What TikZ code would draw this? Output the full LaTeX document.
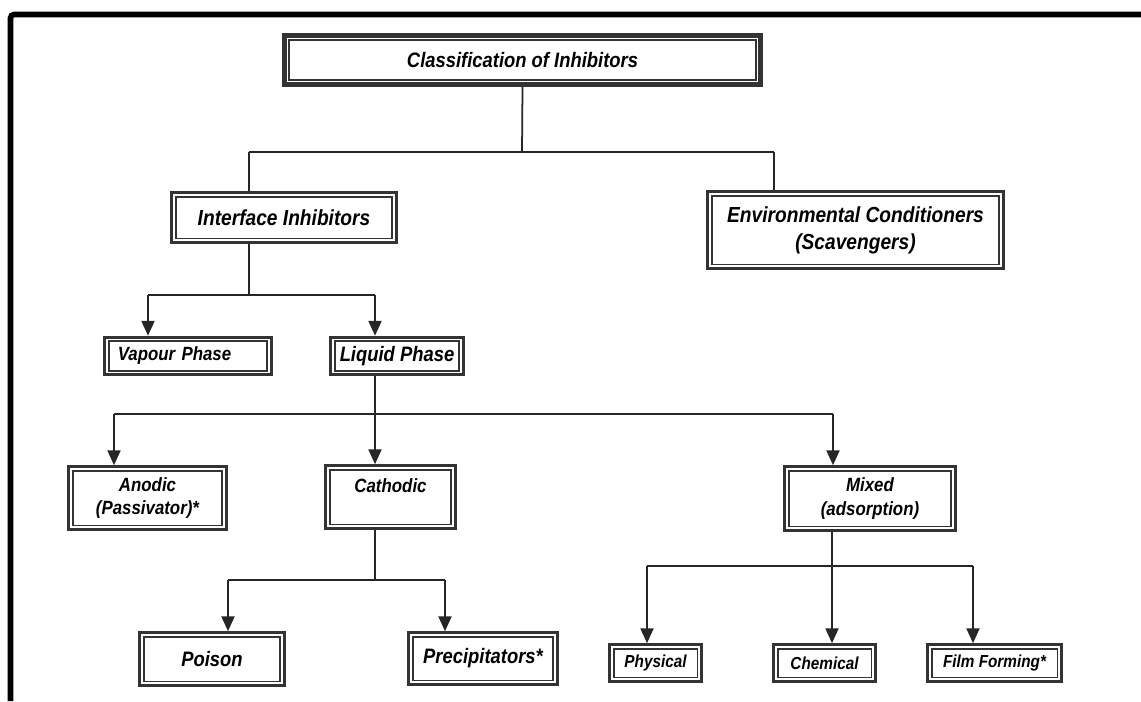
\documentclass[tikz,border=0pt]{standalone}
\usepackage{fontspec}
\newfontfamily\boxfont[FakeStretch=0.88]{Liberation Sans}
\usepackage{tikz}
\usetikzlibrary{arrows.meta}

\tikzset{
  ibox/.style={draw=black!80, line width=1.8pt, inner sep=0pt, align=center, text=black},
  inbox/.style={draw=black!80, line width=0.95pt},
  link/.style={draw=black!85, line width=1pt},
  arr/.style={link, -{Triangle[width=7.5pt,length=8.5pt]}},
  fxl/.style={font=\boxfont\bfseries\itshape\fontsize{12.4}{15.5}\selectfont},
  fl/.style={font=\boxfont\bfseries\itshape\fontsize{11.9}{15.5}\selectfont},
  fm/.style={font=\boxfont\bfseries\itshape\fontsize{10.9}{13.6}\selectfont},
  fs/.style={font=\boxfont\bfseries\itshape\fontsize{9.9}{12}\selectfont},
}

\begin{document}
\begin{tikzpicture}[x=0.02cm, y=-0.02cm]
      \useasboundingbox (0,0) rectangle (1141,701);
      \draw[black, line width=3.2pt, rounded corners=2pt] (1141,14.5) -- (10.5,14.5) -- (10.5,701);

      \node[ibox, fl, line width=2.6pt, minimum width=9.52cm, minimum height=0.98cm] (title) at (522.5,60) {Classification of Inhibitors};

      \node[ibox, fxl, minimum width=4.49cm, minimum height=0.99cm] (iface) at (284,217.5) {Interface Inhibitors};
      \node[ibox, fxl, minimum width=5.91cm, minimum height=1.53cm] (env) at (855.5,230) {Environmental Conditioners\\(Scavengers)};

      \node[ibox, fm, align=left, inner xsep=0.26cm, text width=2.81cm, minimum height=0.75cm] (vapour) at (188,356) {Vapour Phase};
      \node[ibox, fl, minimum width=2.65cm, minimum height=0.75cm] (liquid) at (397,356) {Liquid Phase};

      \node[ibox, fm, minimum width=3.15cm, minimum height=1.25cm] (anodic) at (147.5,498) {Anodic\\(Passivator)*};
      \node[ibox, fm, minimum width=2.59cm, minimum height=1.25cm] (cathodic) at (390.5,497) {Cathodic\\~};
      \node[ibox, fm, minimum width=3.41cm, minimum height=1.27cm] (mixed) at (870,498.5) {Mixed\\(adsorption)};

      \node[ibox, fl, minimum width=2.89cm, minimum height=1.05cm] (poison) at (212,659) {Poison};
      \node[ibox, fl, minimum width=2.97cm, minimum height=1.03cm] (precip) at (483,658.5) {Precipitators*};

      \node[ibox, fs, minimum width=1.83cm, minimum height=0.73cm] (phys) at (655.5,663) {Physical};
      \node[ibox, fs, minimum width=2.03cm, minimum height=0.73cm] (chem) at (824.5,663) {Chemical};
      \node[ibox, fs, minimum width=2.67cm, minimum height=0.73cm] (film) at (994.5,663) {Film Forming*};

      % inner thin frames
      \draw[inbox] ([shift={(7,-7)}]title.south west) rectangle ([shift={(-7,7)}]title.north east);
      \foreach \n in {iface,env,vapour,liquid,anodic,cathodic,mixed,poison,precip,phys,chem,film}
        \draw[inbox] ([shift={(5.5,-5.5)}]\n.south west) rectangle ([shift={(-5.5,5.5)}]\n.north east);

      % junctions
      \coordinate (j1) at (522,152);
      \coordinate (j1l) at (249,152);
      \coordinate (j1r) at (774,152);
      \coordinate (j2) at (249,295);
      \coordinate (j2l) at (148,295);
      \coordinate (j2r) at (375,295);
      \coordinate (j3) at (375,414);
      \coordinate (j3l) at (114,414);
      \coordinate (j3r) at (833,414);
      \coordinate (j4) at (375,580);
      \coordinate (j4l) at (228,580);
      \coordinate (j4r) at (445,580);
      \coordinate (j5) at (832,566);
      \coordinate (j5l) at (647,566);
      \coordinate (j5r) at (973,566);

      \draw[link] (title.south) -- (j1);
      \draw[link] (j1l) -- (j1r);
      \draw[link] (j1l) -- (j1l |- iface.north);
      \draw[link] (j1r) -- (j1r |- env.north);

      \draw[link] (iface.south -| j2) -- (j2);
      \draw[link] (j2l) -- (j2r);
      \draw[arr] (j2l) -- (j2l |- vapour.north);
      \draw[arr] (j2r) -- (j2r |- liquid.north);

      \draw[link] (liquid.south -| j3) -- (j3);
      \draw[link] (j3l) -- (j3r);
      \draw[arr] (j3l) -- (j3l |- anodic.north);
      \draw[arr] (j3) -- (j3 |- cathodic.north);
      \draw[arr] (j3r) -- (j3r |- mixed.north);

      \draw[link] (cathodic.south -| j4) -- (j4);
      \draw[link] (j4l) -- (j4r);
      \draw[arr] (j4l) -- (j4l |- poison.north);
      \draw[arr] (j4r) -- (j4r |- precip.north);

      \draw[link] (mixed.south -| j5) -- (j5);
      \draw[link] (j5l) -- (j5r);
      \draw[arr] (j5l) -- (j5l |- phys.north);
      \draw[arr] (j5) -- (j5 |- chem.north);
      \draw[arr] (j5r) -- (j5r |- film.north);
    \end{tikzpicture}
\end{document}
